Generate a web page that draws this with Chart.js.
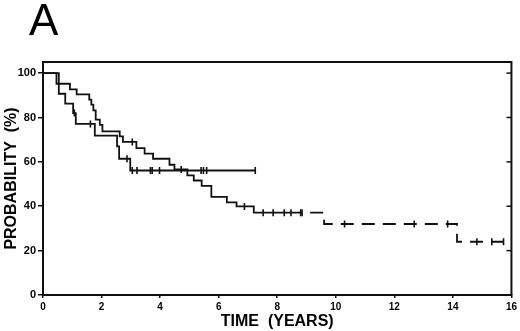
<!DOCTYPE html>
<html>
<head>
<meta charset="utf-8">
<script src="https://cdn.jsdelivr.net/npm/chart.js@4.4.1/dist/chart.umd.min.js"></script>
<style>
  html, body { margin: 0; padding: 0; background: #fff; }
  #wrap { width: 520px; height: 331px; }
</style>
</head>
<body>
<div id="wrap"><canvas id="kmChart" width="520" height="331"></canvas></div>
<script>
// tick labels
const xTicks = [0, 2, 4, 6, 8, 10, 12, 14, 16];
const yTicks = [0, 20, 40, 60, 80, 100];

// curve A (shorter follow-up, levels off at ~56%)
const timeA = [0, 0.54, 0.76, 1.03, 1.12, 1.77, 2.53, 2.60, 2.98, 7.25];
const probA = [100, 90.7, 86.2, 82.0, 77.1, 71.8, 67.0, 61.4, 56.1, 56.1];
const censorTimeA = [1.07, 1.62, 2.87, 3.05, 3.21, 3.67, 3.73, 3.98, 5.40, 5.48, 5.59, 7.25];
const censorProbA = [82.0, 77.1, 61.4, 56.1, 56.1, 56.1, 56.1, 56.1, 56.1, 56.1, 56.1, 56.1];

// curve B (long follow-up)
const timeB = [0, 0.46, 0.92, 1.15, 1.58, 1.65, 1.72, 1.80, 1.94, 2.03, 2.62, 2.73, 3.19, 3.47, 3.76,
  4.32, 4.49, 4.93, 5.15, 5.42, 5.75, 6.28, 6.61, 7.20, 8.85, 9.60, 14.14, 15.73];
const probB = [100, 95.2, 92.7, 90.4, 88.0, 85.8, 83.2, 79.0, 76.7, 73.7, 71.5, 69.0, 66.2, 63.7, 61.4,
  58.7, 56.6, 53.9, 51.6, 49.2, 44.2, 41.7, 39.9, 37.1, 37.1, 32.0, 24.0, 24.0];
const censorTimeB = [3.05, 4.72, 6.88, 7.52, 7.86, 8.24, 8.47, 8.80, 8.85, 10.30, 12.68, 13.82, 14.82, 15.33, 15.73];
const censorProbB = [69.0, 56.6, 39.9, 37.1, 37.1, 37.1, 37.1, 37.1, 37.1, 32.0, 32.0, 32.0, 24.0, 24.0, 24.0];

const dashFrom = 8.85;

function pts(xs, ys) {
  return xs.map((x, i) => ({ x: x, y: ys[i] }));
}

const FONT = "'Liberation Sans', Arial, Helvetica, sans-serif";

const framePlugin = {
  id: "frame",
  afterDraw(chart) {
    const { ctx, chartArea } = chart;
    const yScale = chart.scales.y;
    ctx.save();
    ctx.strokeStyle = "#111";
    ctx.lineWidth = 2;
    ctx.beginPath();
    ctx.moveTo(chartArea.left, chartArea.top);
    ctx.lineTo(chartArea.right, chartArea.top);
    ctx.lineTo(chartArea.right, chartArea.bottom);
    ctx.stroke();
    // inward ticks on the right border
    ctx.lineWidth = 1.5;
    yTicks.forEach(v => {
      if (v === 0) return;
      const y = yScale.getPixelForValue(v);
      ctx.beginPath();
      ctx.moveTo(chartArea.right, y);
      ctx.lineTo(chartArea.right - 5, y);
      ctx.stroke();
    });
    // panel letter
    ctx.fillStyle = "#000";
    ctx.font = "44px " + FONT;
    ctx.textBaseline = "alphabetic";
    ctx.textAlign = "left";
    ctx.fillText("A", 29, 35);
    ctx.restore();
  }
};

const ctx = document.getElementById("kmChart").getContext("2d");
new Chart(ctx, {
  type: "line",
  data: {
    datasets: [
      {
        label: "A",
        data: pts(timeA, probA),
        stepped: true,
        borderColor: "#111",
        borderWidth: 1.8,
        pointRadius: 0,
        fill: false
      },
      {
        label: "B",
        data: pts(timeB, probB),
        stepped: true,
        borderColor: "#111",
        borderWidth: 1.8,
        pointRadius: 0,
        fill: false,
        segment: {
          borderDash: c => c.p0.parsed.x >= dashFrom ? [13, 8] : undefined,
          borderDashOffset: c => c.p0.parsed.x >= dashFrom ? 13 : 0
        }
      },
      {
        label: "censA",
        type: "scatter",
        data: pts(censorTimeA, censorProbA),
        showLine: false,
        pointStyle: "line",
        rotation: 90,
        pointRadius: 3.5,
        pointBorderWidth: 1.6,
        pointBorderColor: "#111"
      },
      {
        label: "censB",
        type: "scatter",
        data: pts(censorTimeB, censorProbB),
        showLine: false,
        pointStyle: "line",
        rotation: 90,
        pointRadius: 3.5,
        pointBorderWidth: 1.6,
        pointBorderColor: "#111"
      }
    ]
  },
  options: {
    responsive: false,
    animation: false,
    devicePixelRatio: 1,
    layout: { padding: { top: 62, right: 7, left: 0, bottom: 0 } },
    plugins: {
      legend: { display: false },
      tooltip: { enabled: false }
    },
    scales: {
      x: {
        type: "linear",
        min: 0,
        max: 16,
        afterBuildTicks: s => { s.ticks = xTicks.map(v => ({ value: v })); },
        afterFit: s => { s.height = 36; },
        border: { display: true, color: "#111", width: 2 },
        grid: { display: true, drawOnChartArea: false, tickLength: 3, color: "#111", lineWidth: 1.5 },
        ticks: { color: "#000", padding: 3, maxRotation: 0, font: { family: FONT, size: 10, weight: "bold" } },
        title: {
          display: true,
          text: "TIME  (YEARS)",
          color: "#000",
          padding: { top: 0, bottom: 0 },
          font: { family: FONT, size: 16, weight: "bold", lineHeight: 1.2 }
        }
      },
      y: {
        min: 0,
        max: 105,
        afterBuildTicks: s => { s.ticks = yTicks.map(v => ({ value: v })); },
        afterFit: s => { s.width = 43; },
        border: { display: true, color: "#111", width: 2 },
        grid: { display: true, drawOnChartArea: false, tickLength: 5, color: "#111", lineWidth: 1.5 },
        ticks: { color: "#000", padding: 2, font: { family: FONT, size: 11, weight: "bold" } },
        title: {
          display: true,
          text: "PROBABILITY  (%)",
          color: "#000",
          padding: { top: 1.5, bottom: 0 },
          font: { family: FONT, size: 16, weight: "bold", lineHeight: 1.2 }
        }
      }
    }
  },
  plugins: [framePlugin]
});
</script>
</body>
</html>
